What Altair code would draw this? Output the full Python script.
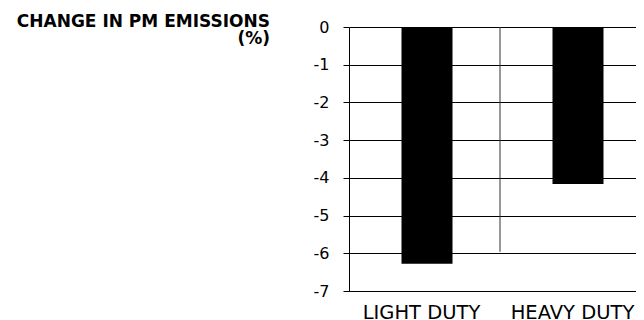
import altair as alt
import pandas as pd

categories = ["LIGHT DUTY", "HEAVY DUTY"]
values = [-6.28, -4.16]
y_ticks = [0, -1, -2, -3, -4, -5, -6, -7]
divider_category = "HEAVY DUTY"
divider_bottom = -5.96
title_lines = ["CHANGE IN PM EMISSIONS", "(%)"]

bars_df = pd.DataFrame({"category": categories, "value": values})
div_df = pd.DataFrame({"category": [divider_category], "top": [0], "bottom": [divider_bottom]})
title_df = pd.DataFrame({"t": [title_lines]})

FONT = "DejaVu Sans"

# band scale continues past the visible right edge (the reference is cropped there)
x_scale = alt.Scale(domain=categories, paddingInner=0, paddingOuter=0, range=[0, 302])
y_scale = alt.Scale(domain=[-7, 0], nice=False, zero=False)

x_axis = alt.Axis(title=None, labelAngle=0, labelFont=FONT, labelFontSize=19.5,
                  labelColor="black", domain=True, domainColor="black",
                  domainWidth=1, ticks=False, labelPadding=12, labelOffset=-3,
                  grid=False)
y_axis = alt.Axis(title=None, values=y_ticks, tickCount=8,
                  labelExpr="replace(format(datum.value, 'd'), '\u2212', '-')",
                  labelFont=FONT, labelOverlap=False,
                  labelFontSize=16, labelColor="black", domainColor="black",
                  tickColor="black", tickSize=6, labelPadding=14,
                  gridColor="black", gridWidth=1, gridOpacity=1)

bars = alt.Chart(bars_df).mark_bar(color="black", size=51, xOffset=2.5).encode(
    x=alt.X("category:N", scale=x_scale, sort=categories, axis=x_axis),
    y=alt.Y("value:Q", scale=y_scale, axis=y_axis),
    y2=alt.datum(0),
)

divider = alt.Chart(div_df).mark_rule(color="#333333", strokeWidth=1).encode(
    x=alt.X("category:N", scale=x_scale, sort=categories, bandPosition=0, axis=x_axis),
    y=alt.Y("top:Q", scale=y_scale, axis=y_axis),
    y2="bottom:Q",
)

title = alt.Chart(title_df).mark_text(
    align="right", baseline="alphabetic", font=FONT, fontSize=17, fontWeight="bold",
    lineHeight=17, color="black"
).encode(
    x=alt.value(-79), y=alt.value(0), text="t"
)

chart = alt.layer(bars, divider, title).properties(
    width=287, height=264,
    autosize=alt.AutoSizeParams(type="none"),
    padding={"left": 341, "top": 19, "right": 0, "bottom": 37},
).configure_view(stroke=None).configure_axis(labelFontWeight="normal")

chart.save("out.html", embed_options={"renderer": "svg", "actions": False})
